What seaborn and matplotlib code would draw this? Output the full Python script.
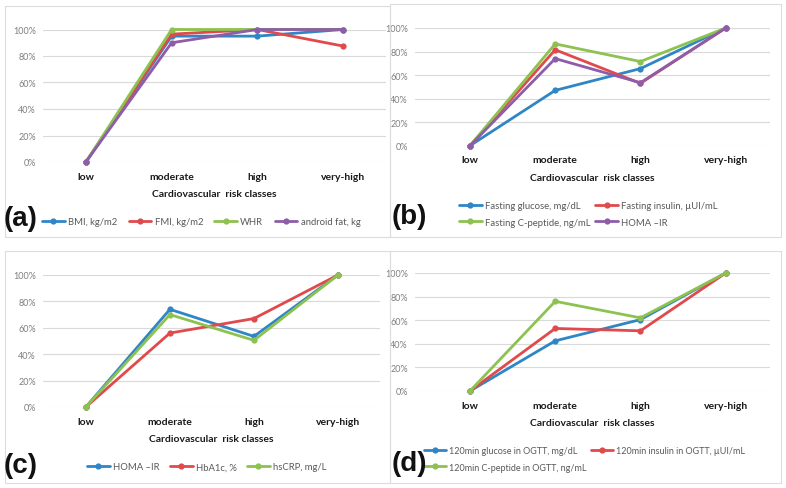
import numpy as np
import pandas as pd
import matplotlib
matplotlib.use("Agg")
import matplotlib.pyplot as plt
import seaborn as sns
from matplotlib.patches import Rectangle
from matplotlib.ticker import PercentFormatter

# ---------- data ----------
classes = ["low", "moderate", "high", "very-high"]

a_names = ["BMI, kg/m2", "FMI, kg/m2", "WHR", "android fat, kg"]
a_bmi = [0, 95, 95, 100]
a_fmi = [0, 96.5, 100, 87.5]
a_whr = [0, 100, 100, 100]
a_android = [0, 90, 100, 100]

b_names = ["Fasting glucose, mg/dL", "Fasting insulin, \u00b5UI/mL",
           "Fasting C-peptide, ng/mL", "HOMA \u2013IR"]
b_glucose = [0, 47, 65.5, 100]
b_insulin = [0, 81.5, 53, 100]
b_cpeptide = [0, 86.5, 71.5, 100]
b_homa = [0, 74, 53.5, 100]

c_names = ["HOMA \u2013IR", "HbA1c, %", "hsCRP, mg/L"]
c_homa = [0, 74, 53.5, 100]
c_hba1c = [0, 56, 67, 100]
c_hscrp = [0, 70, 50.5, 100]

d_names = ["120min glucose in OGTT, mg/dL", "120min insulin in OGTT, \u00b5UI/mL",
           "120min C-peptide in OGTT, ng/mL"]
d_glucose = [0, 42.5, 60.5, 100]
d_insulin = [0, 53, 51, 100]
d_cpeptide = [0, 76, 62, 100]

BLUE, RED, GREEN, PURPLE = "#2f86c6", "#e04a4c", "#8dc251", "#8e5ca8"

W, H = 786, 489
sns.set_theme(style="white")
plt.rcParams["font.family"] = ["Lato", "DejaVu Sans"]

fig = plt.figure(figsize=(W / 100, H / 100), dpi=100)
fig.patch.set_facecolor("white")


def rect(left, top, right, bottom):
    return [left / W, 1 - bottom / H, (right - left) / W, (bottom - top) / H]


# panel frames
for (l, t, r, b) in [(5, 7, 390, 238), (390, 5, 781, 238),
                     (5, 252, 390, 484), (390, 252, 781, 484)]:
    fig.patches.append(Rectangle((l / W, 1 - b / H), (r - l) / W, (b - t) / H,
                                 transform=fig.transFigure, fill=False,
                                 edgecolor="#dcdcdc", linewidth=0.8))


def panel(box, xlim, names, series, colors, label, label_xy,
          leg_xy, ncol, order, colsp, legfs=6.8):
    ax = fig.add_axes(rect(*box))
    rows = []
    for name, vals in zip(names, series):
        for i, v in enumerate(vals):
            rows.append({"pos": i, "value": v / 100, "series": name})
    df = pd.DataFrame(rows)
    sns.lineplot(data=df, x="pos", y="value", hue="series", hue_order=names,
                 palette=colors, marker="o", markersize=4.5,
                 markeredgewidth=0, linewidth=2.0, ax=ax)
    for ln in ax.lines:
        ln.set_clip_on(False)
    ax.set_xlim(*xlim)
    ax.set_ylim(0, 1)
    ax.set_yticks(np.arange(0, 1.01, 0.2))
    ax.yaxis.set_major_formatter(PercentFormatter(1.0, decimals=0))
    ax.set_xticks(range(len(classes)))
    ax.set_xticklabels(classes, fontweight="bold", fontsize=7.5, color="#1a1a1a")
    ax.tick_params(axis="x", length=0, pad=7)
    ax.tick_params(axis="y", length=0, pad=5, labelsize=6.5, labelcolor="#7f7f7f")
    ax.grid(axis="y", color="#d9d9d9", linewidth=0.8)
    ax.set_axisbelow(True)
    for s in ax.spines.values():
        s.set_visible(False)
    ax.set_xlabel("")
    ax.set_ylabel("")
    hgt = box[3] - box[1]
    ax.text(0.5, -27 / hgt, "Cardiovascular  risk classes", transform=ax.transAxes,
            ha="center", va="top", fontsize=7.5, fontweight="bold", color="#1a1a1a")
    handles, labels = ax.get_legend_handles_labels()
    handles = [handles[i] for i in order]
    labels = [labels[i] for i in order]
    ax.legend(handles, labels, loc="center left",
              bbox_to_anchor=(leg_xy[0] / W, 1 - leg_xy[1] / H),
              bbox_transform=fig.transFigure, ncol=ncol, frameon=False,
              fontsize=legfs, labelcolor="#595959", handlelength=2.4,
              handletextpad=0.35, columnspacing=colsp, borderpad=0,
              borderaxespad=0, labelspacing=0.8)
    fig.text(label_xy[0] / W, 1 - label_xy[1] / H, label, fontsize=20,
             fontweight="bold", family=["Liberation Sans", "DejaVu Sans"],
             ha="left", va="center", color="#111111")
    return ax


panel((43, 30.5, 386, 163), (-0.5, 3.5), a_names,
      [a_bmi, a_fmi, a_whr, a_android], [BLUE, RED, GREEN, PURPLE],
      "(a)", (4, 219), (42, 223), 4, [0, 1, 2, 3], 1.2)

panel((415, 29, 770, 146.7), (-0.645, 3.52), b_names,
      [b_glucose, b_insulin, b_cpeptide, b_homa], [BLUE, RED, GREEN, PURPLE],
      "(b)", (392, 217), (459, 215), 2, [0, 2, 1, 3], 0.5)

panel((43, 276, 380, 408), (-0.51, 3.5), c_names,
      [c_homa, c_hba1c, c_hscrp], [BLUE, RED, GREEN],
      "(c)", (4, 466), (87, 468), 3, [0, 1, 2], 1.1)

panel((415, 274, 770, 392), (-0.645, 3.52), d_names,
      [d_glucose, d_insulin, d_cpeptide], [BLUE, RED, GREEN],
      "(d)", (392, 464), (424, 460), 2, [0, 2, 1], 0.5, legfs=6.5)

fig.savefig("out.png", dpi=100)
